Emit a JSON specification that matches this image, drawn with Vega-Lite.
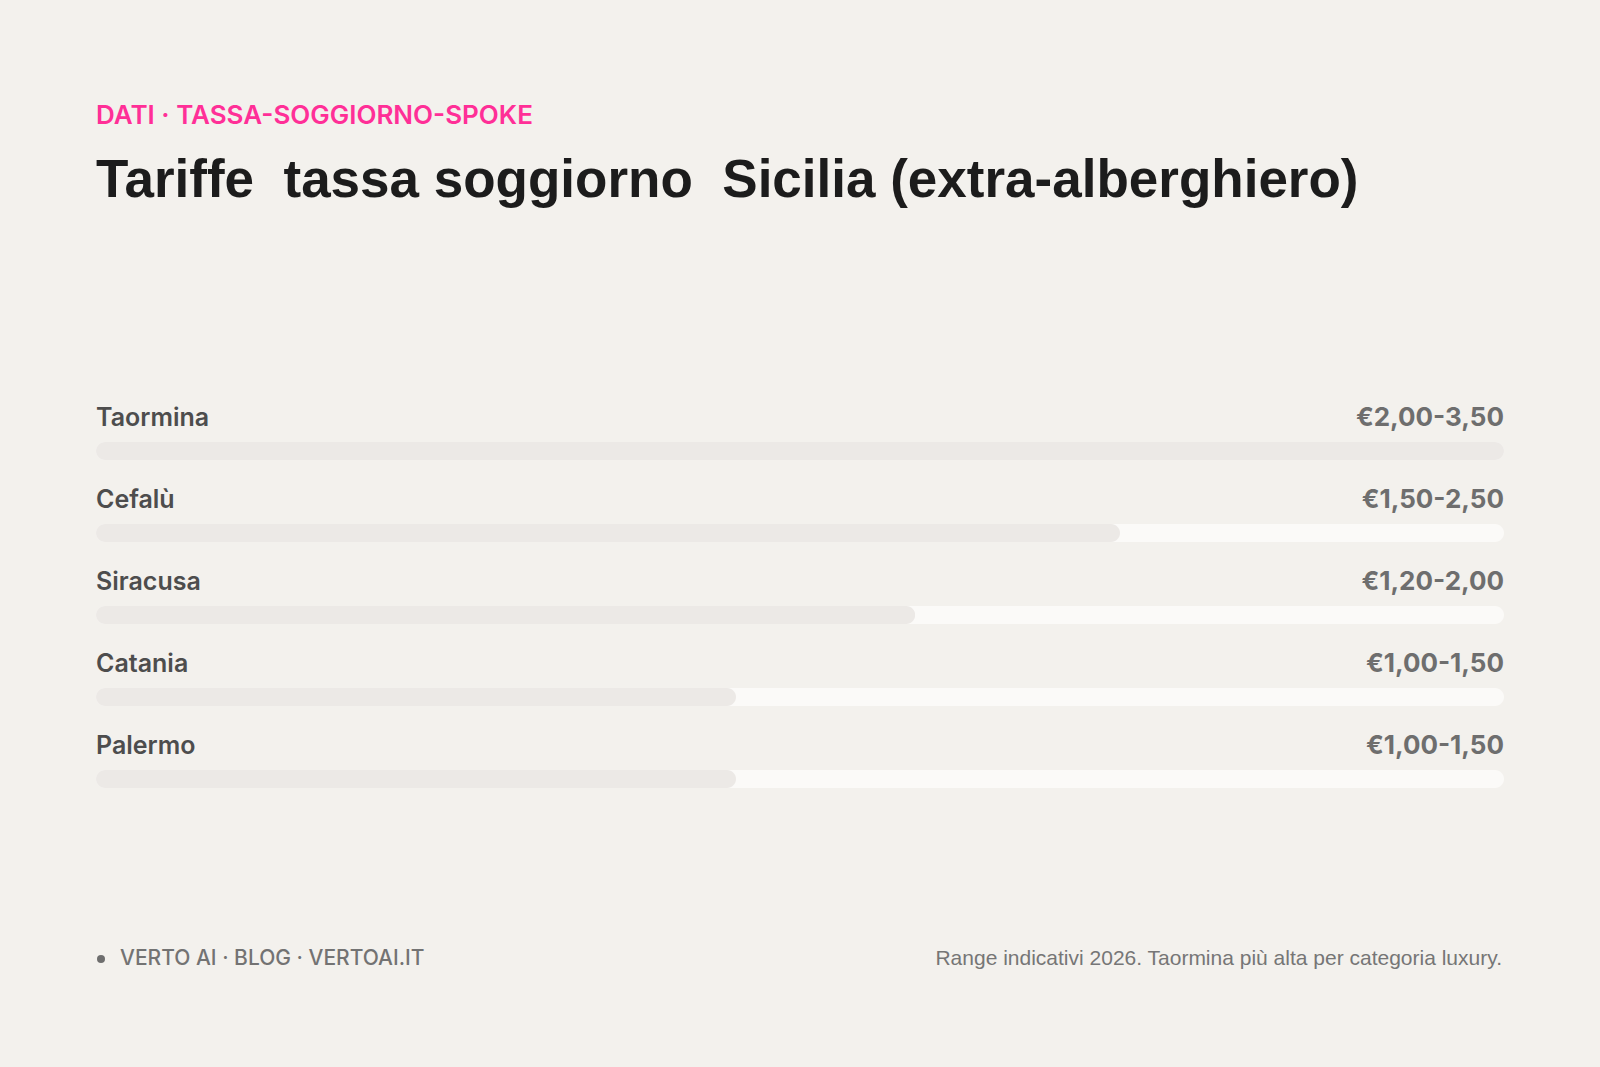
{
  "$schema": "https://vega.github.io/schema/vega-lite/v6.json",
  "background": "#f3f1ed",
  "padding": {"left": 96, "right": 96, "top": 103, "bottom": 98},
  "title": {
    "text": "DATI · TASSA-SOGGIORNO-SPOKE",
    "subtitle": "Tariffe \u00a0tassa soggiorno \u00a0Sicilia (extra-alberghiero)",
    "anchor": "start",
    "frame": "group",
    "font": "Inter",
    "fontSize": 26,
    "fontWeight": 600,
    "color": "#ff2f97",
    "subtitleFont": "Liberation Sans",
    "subtitleFontSize": 53,
    "subtitleFontWeight": 700,
    "subtitleColor": "#1c1c1c",
    "subtitlePadding": 26,
    "offset": 197
  },
  "config": {"view": {"stroke": null}},
  "spacing": 124,
  "vconcat": [
    {
      "width": 1408,
      "height": {"step": 82},
      "data": {
        "values": [
          {"city": "Taormina", "range": "€2,00-3,50", "min": 2.0, "max": 3.5, "mid": 2.75},
          {"city": "Cefalù", "range": "€1,50-2,50", "min": 1.5, "max": 2.5, "mid": 2.0},
          {"city": "Siracusa", "range": "€1,20-2,00", "min": 1.2, "max": 2.0, "mid": 1.6},
          {"city": "Catania", "range": "€1,00-1,50", "min": 1.0, "max": 1.5, "mid": 1.25},
          {"city": "Palermo", "range": "€1,00-1,50", "min": 1.0, "max": 1.5, "mid": 1.25}
        ]
      },
      "encoding": {
        "y": {
          "field": "city",
          "type": "nominal",
          "sort": null,
          "scale": {"paddingInner": 0, "paddingOuter": 0},
          "axis": null
        }
      },
      "layer": [
        {
          "mark": {"type": "bar", "height": 18, "cornerRadius": 9, "color": "#fbfaf8"},
          "encoding": {
            "x": {"datum": 0, "type": "quantitative", "scale": {"domain": [0, 2.75], "nice": false}, "axis": null},
            "x2": {"datum": 2.75}
          }
        },
        {
          "mark": {"type": "bar", "height": 18, "cornerRadius": 9, "color": "#ece9e6"},
          "encoding": {
            "x": {"field": "mid", "type": "quantitative"}
          }
        },
        {
          "mark": {"type": "text", "align": "left", "baseline": "alphabetic", "dy": -25, "font": "Inter", "fontSize": 25, "fontWeight": 600, "color": "#4d4d4d"},
          "encoding": {
            "x": {"datum": 0, "type": "quantitative"},
            "text": {"field": "city"}
          }
        },
        {
          "mark": {"type": "text", "align": "right", "baseline": "alphabetic", "dy": -25, "font": "Inter", "fontSize": 26, "fontWeight": 700, "color": "#6e6e6e"},
          "encoding": {
            "x": {"datum": 2.75, "type": "quantitative"},
            "text": {"field": "range"}
          }
        }
      ]
    },
    {
      "width": 1408,
      "height": 30,
      "data": {"values": [{"source": "VERTO AI · BLOG · VERTOAI.IT", "note": "Range indicativi 2026. Taormina più alta per categoria luxury."}]},
      "layer": [
        {
          "mark": {"type": "circle", "size": 64, "color": "#6e6e6e", "opacity": 1},
          "encoding": {
            "x": {"datum": 0, "type": "quantitative", "scale": {"domain": [0, 1]}, "axis": null},
            "xOffset": {"value": 5}
          }
        },
        {
          "mark": {"type": "text", "align": "left", "baseline": "middle", "dx": 24, "font": "Inter", "fontSize": 21, "fontWeight": 500, "color": "#737373"},
          "encoding": {
            "x": {"datum": 0, "type": "quantitative"},
            "text": {"field": "source"}
          }
        },
        {
          "mark": {"type": "text", "align": "right", "baseline": "middle", "dx": -2, "font": "Liberation Sans", "fontSize": 21, "fontWeight": 400, "color": "#767676"},
          "encoding": {
            "x": {"datum": 1, "type": "quantitative"},
            "text": {"field": "note"}
          }
        }
      ]
    }
  ]
}
